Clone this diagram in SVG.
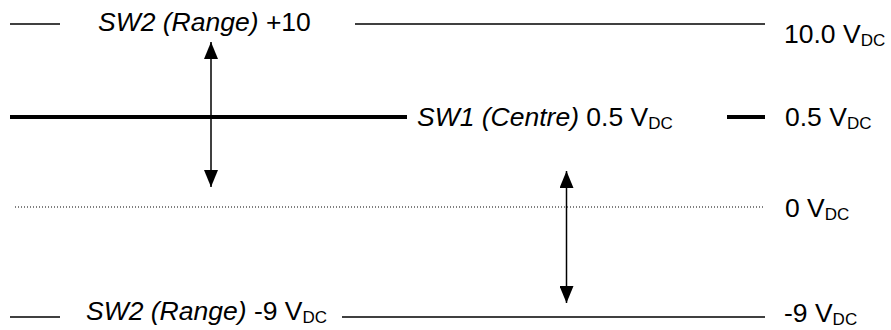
<svg xmlns="http://www.w3.org/2000/svg" width="891" height="330" viewBox="0 0 891 330">
<defs>
<style>
.t{font-family:"Liberation Sans",Arial,sans-serif;font-size:26.5px;fill:#000}
.i{font-style:italic}
.s{font-size:17px}
.ln{stroke:#000;stroke-width:1.5;fill:none}
.thick{stroke:#000;stroke-width:4;fill:none}
.dot{stroke:#000;stroke-width:1;stroke-dasharray:1 2;fill:none}
.arr{stroke:#000;stroke-width:1.5;fill:none;marker-start:url(#ah);marker-end:url(#ah)}
</style>
<marker id="ah" viewBox="0 0 17 14" refX="17" refY="7" markerWidth="17" markerHeight="14" markerUnits="userSpaceOnUse" orient="auto-start-reverse">
<path d="M0,0 L17,7 L0,14 Z" fill="#000"/>
</marker>
</defs>
<g id="levels">
<g id="level-10">
<line class="ln" x1="10" y1="24" x2="60" y2="24"/>
<line class="ln" x1="355" y1="24" x2="765" y2="24"/>
<text class="t i" x="98" y="31">SW2 (Range)<tspan font-style="normal"> +10</tspan></text>
<text class="t" x="784" y="43">10.0 V<tspan class="s" dy="3">DC</tspan></text>
</g>
<g id="level-0.5">
<line class="thick" x1="10" y1="117" x2="407" y2="117"/>
<line class="thick" x1="727" y1="117" x2="765" y2="117"/>
<text class="t i" x="417" y="126">SW1 (Centre)<tspan font-style="normal"> 0.5 V</tspan><tspan class="s" font-style="normal" dy="3">DC</tspan></text>
<text class="t" x="785" y="126">0.5 V<tspan class="s" dy="3">DC</tspan></text>
</g>
<g id="level-0">
<line class="dot" x1="15" y1="207" x2="765" y2="207"/>
<text class="t" x="785" y="217">0 V<tspan class="s" dy="3">DC</tspan></text>
</g>
<g id="level-neg9">
<line class="ln" x1="10" y1="317" x2="60" y2="317"/>
<line class="ln" x1="342" y1="317" x2="765" y2="317"/>
<text class="t i" x="86" y="320">SW2 (Range)<tspan font-style="normal"> -9 V</tspan><tspan class="s" font-style="normal" dy="3">DC</tspan></text>
<text class="t" x="784" y="322">-9 V<tspan class="s" dy="3">DC</tspan></text>
</g>
</g>
<g id="connectors">
<line class="arr" x1="211" y1="42" x2="211" y2="187"/>
<line class="arr" x1="566.5" y1="171" x2="566.5" y2="303"/>
</g>
</svg>
